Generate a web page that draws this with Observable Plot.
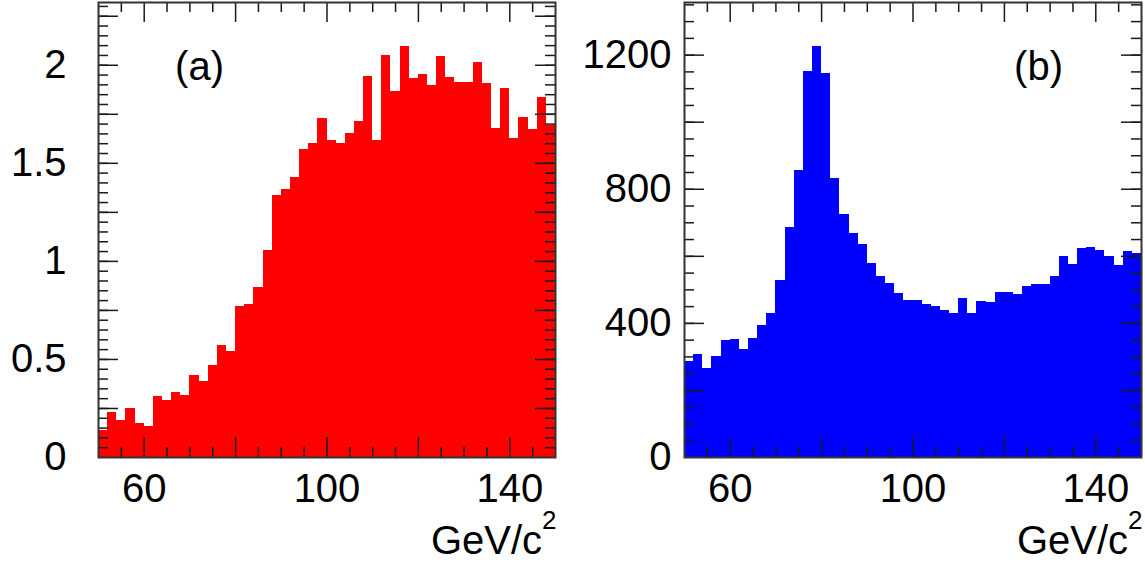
<!DOCTYPE html>
<html><head><meta charset="utf-8">
<script src="https://cdn.jsdelivr.net/npm/d3@7"></script>
<script src="https://cdn.jsdelivr.net/npm/@observablehq/plot@0.6"></script>
<style>
html,body{margin:0;padding:0;background:#fff;}
#wrap{display:flex;width:1145px;height:563px;overflow:hidden;}
</style></head><body><div id="wrap"></div>
<script>
// Bin lower edges (GeV/c^2), bins are 2 GeV/c^2 wide
const binLow = [50,52,54,56,58,60,62,64,66,68,70,72,74,76,78,80,82,84,86,88,
  90,92,94,96,98,100,102,104,106,108,110,112,114,116,118,120,122,124,126,128,
  130,132,134,136,138,140,142,144,146,148];
const binWidth = 2;
// Panel (a) bin contents
const valuesA = [0.14,0.23,0.19,0.25,0.175,0.16,0.31,0.29,0.33,0.315,
  0.42,0.39,0.47,0.57,0.54,0.77,0.78,0.865,1.055,1.335,
  1.365,1.43,1.57,1.60,1.73,1.615,1.60,1.65,1.715,1.945,
  1.615,2.05,1.865,2.095,1.93,1.955,1.895,2.045,1.94,1.91,
  1.91,2.015,1.905,1.675,1.88,1.625,1.735,1.67,1.835,1.695];
// Panel (b) bin contents
const valuesB = [287,307,266,301,349,351,322,355,394,429,
  528,685,856,1151,1227,1146,832,725,669,635,
  580,540,518,488,469,469,456,450,438,430,
  474,430,464,462,491,493,487,510,515,516,
  540,600,575,623,627,618,600,574,613,608];

const xDomain = [50,150];
const xLabelTicks = [60,100,140];
const xMajorTicks = [60,80,100,120,140];
const xMinorTicks = [55,65,70,75,85,90,95,105,110,115,125,130,135,145];

const yMaxA = 2.32;
const yLabelTicksA = [0,0.5,1,1.5,2];
const yMajorTicksA = [0.25,0.5,0.75,1,1.25,1.5,1.75,2,2.25];
const yMinorTicksA = d3.range(0.05, yMaxA, 0.05);

const yMaxB = 1357;
const yLabelTicksB = [0,400,800,1200];
const yMajorTicksB = [200,400,600,800,1000,1200];
const yMinorTicksB = d3.range(50, yMaxB, 50);

const panelLabels = ["(a)","(b)"];
const unitLabel = "GeV/c²";
const colors = ["#ff0000","#0000ff"];

const H = 563, MT = 2, MB = 106;
const FH = H - MT - MB;
const FONT = "'Liberation Sans', Arial, Helvetica, sans-serif";
const INK = "#1a1a1a";

function panel({values, yMax, yLabels, yMajor, yMinor, color, label, width, marginLeft, marginRight, padY, labelDx}) {
  const FW = width - marginLeft - marginRight;
  const data = binLow.map((x, i) => ({x1: x, x2: x + binWidth, v: values[i]}));
  const big = 20, small = 10;
  const svg = Plot.plot({
    width, height: H,
    marginTop: MT, marginBottom: MB, marginLeft, marginRight,
    style: {fontFamily: FONT, background: "white", color: "black", overflow: "visible"},
    x: {domain: xDomain},
    y: {domain: [0, yMax]},
    marks: [
      Plot.rectY(data, {x1: "x1", x2: "x2", y: "v", fill: color, shapeRendering: "crispEdges"}),
      // bottom / top ticks
      Plot.tickX(xMajorTicks, {x: d => d, insetTop: FH - big, stroke: INK, strokeWidth: 1.5}),
      Plot.tickX(xMinorTicks, {x: d => d, insetTop: FH - small, stroke: INK, strokeWidth: 1.5}),
      Plot.tickX(xMajorTicks, {x: d => d, insetBottom: FH - big, stroke: INK, strokeWidth: 1.5}),
      Plot.tickX(xMinorTicks, {x: d => d, insetBottom: FH - small, stroke: INK, strokeWidth: 1.5}),
      // left / right ticks
      Plot.tickY(yMajor, {y: d => d, insetRight: FW - big, stroke: INK, strokeWidth: 1.5}),
      Plot.tickY(yMinor, {y: d => d, insetRight: FW - small, stroke: INK, strokeWidth: 1.5}),
      Plot.tickY(yMajor, {y: d => d, insetLeft: FW - big, stroke: INK, strokeWidth: 1.5}),
      Plot.tickY(yMinor, {y: d => d, insetLeft: FW - small, stroke: INK, strokeWidth: 1.5}),
      Plot.frame({stroke: "#333", strokeWidth: 2}),
      Plot.axisX(xLabelTicks, {tickSize: 0, tickPadding: 16, fontSize: 40, label: null, tickFormat: d => String(d)}),
      Plot.axisY(yLabels, {tickSize: 0, tickPadding: padY, fontSize: 40, label: null, tickFormat: d => String(d)}),
      Plot.text([label], {frameAnchor: "top-left", dx: labelDx, dy: 77, textAnchor: "middle", lineAnchor: "bottom", fontSize: 40, fill: "black"}),
      Plot.text([unitLabel], {frameAnchor: "bottom-right", dx: 1, dy: 96, textAnchor: "end", lineAnchor: "bottom", fontSize: 40, fill: "black"})
    ]
  });
  d3.select(svg).selectAll("text").filter(function() { return this.textContent === unitLabel; })
    .each(function() {
      const t = d3.select(this);
      t.text("GeV/c");
      t.append("tspan").attr("font-size", 26).attr("dy", -25).text("2");
    });
  return svg;
}

const wrap = document.getElementById("wrap");
wrap.appendChild(panel({values: valuesA, yMax: yMaxA, yLabels: yLabelTicksA, yMajor: yMajorTicksA, yMinor: yMinorTicksA,
  color: colors[0], label: panelLabels[0], width: 572, marginLeft: 98, marginRight: 17, padY: 32, labelDx: 101}));
wrap.appendChild(panel({values: valuesB, yMax: yMaxB, yLabels: yLabelTicksB, yMajor: yMajorTicksB, yMinor: yMinorTicksB,
  color: colors[1], label: panelLabels[1], width: 573, marginLeft: 112, marginRight: 4, padY: 13, labelDx: 354}));
</script></body></html>
